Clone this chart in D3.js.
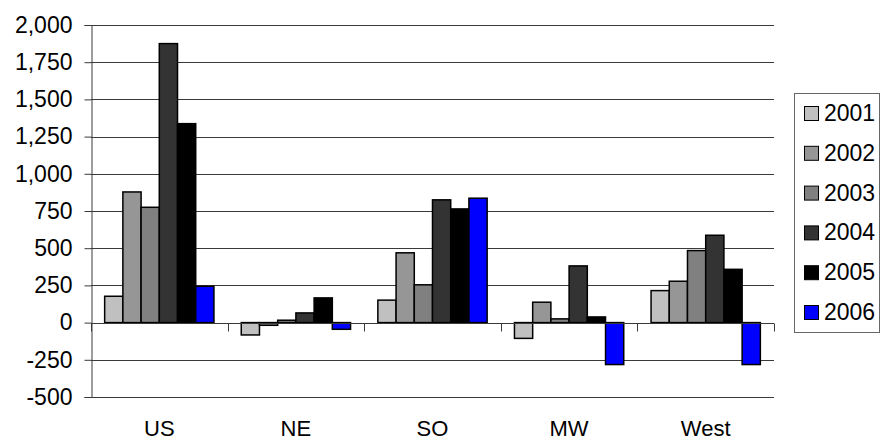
<!DOCTYPE html>
<html>
<head>
<meta charset="utf-8">
<script src="https://cdn.jsdelivr.net/npm/d3@7"></script>
<style>
  html, body { margin: 0; padding: 0; background: #fff; }
  svg { display: block; }
  svg text { font-family: "Liberation Sans", Arial, Helvetica, sans-serif !important; }
</style>
</head>
<body>
<svg id="chart" width="881" height="441"></svg>
<script>
// ---- data ----
const categories = ["US", "NE", "SO", "MW", "West"];
const years = ["2001", "2002", "2003", "2004", "2005", "2006"];
const v2001 = [177, -83, 151, -106, 215];
const v2002 = [878, -18, 469, 137, 278];
const v2003 = [775, 16, 254, 25, 484];
const v2004 = [1875, 65, 825, 381, 587];
const v2005 = [1337, 166, 764, 38, 358];
const v2006 = [244, -45, 836, -282, -282];
const yTicks = [-500, -250, 0, 250, 500, 750, 1000, 1250, 1500, 1750, 2000];
const colors = ["#C0C0C0", "#969696", "#808080", "#333333", "#000000", "#0000FF"];

(function () {
const seriesValues = [v2001, v2002, v2003, v2004, v2005, v2006];
const rows = categories.map((c, i) => ({
  cat: c,
  vals: years.map((yr, j) => ({ year: yr, value: seriesValues[j][i], color: colors[j] }))
}));

// ---- layout ----
const svg = d3.select("#chart");
const pLeft = 91, pRight = 774, pTop = 25, pBottom = 397;
const fontSize = 23;
const fmt = d3.format(",");
const tickFmt = d => fmt(d).replace("\u2212", "-");

const x0 = d3.scaleBand().domain(categories).range([pLeft, pRight]).paddingInner(0).paddingOuter(0);
const x1 = d3.scaleBand().domain(years).range([0, x0.bandwidth()]).paddingInner(0).paddingOuter(0.75);
const y = d3.scaleLinear().domain([-500, 2000]).range([pBottom, pTop]);

// gridlines
svg.append("g")
  .selectAll("line")
  .data(yTicks)
  .join("line")
  .attr("x1", pLeft).attr("x2", pRight)
  .attr("y1", d => Math.round(y(d)) + 0.5)
  .attr("y2", d => Math.round(y(d)) + 0.5)
  .attr("stroke", "#3a3a3a")
  .attr("stroke-width", 1);

// bars
const groups = svg.append("g")
  .selectAll("g")
  .data(rows)
  .join("g")
  .attr("transform", d => `translate(${x0(d.cat)},0)`);

groups.selectAll("rect")
  .data(d => d.vals)
  .join("rect")
  .attr("x", d => x1(d.year))
  .attr("width", x1.bandwidth())
  .attr("y", d => y(Math.max(0, d.value)))
  .attr("height", d => Math.abs(y(d.value) - y(0)))
  .attr("fill", d => d.color)
  .attr("stroke", "#000")
  .attr("stroke-width", 1.5);

// y axis
const yAxis = d3.axisLeft(y).tickValues(yTicks).tickFormat(tickFmt).tickSize(7).tickPadding(12);
const gy = svg.append("g").attr("transform", `translate(${pLeft + 0.5},0)`).call(yAxis);
gy.attr("font-family", null).attr("font-size", null);
gy.select(".domain").attr("stroke", "#3a3a3a");
gy.selectAll(".tick line").attr("stroke", "#3a3a3a");
gy.selectAll(".tick text")
  .style("font-size", fontSize + "px")
  .attr("fill", "#000");

// x axis at zero with ticks at category boundaries
const zeroY = Math.round(y(0)) + 0.5;
const boundaries = categories.map(c => x0(c)).concat([pRight]);
svg.append("g")
  .selectAll("line")
  .data(boundaries)
  .join("line")
  .attr("x1", d => Math.round(d) + 0.5).attr("x2", d => Math.round(d) + 0.5)
  .attr("y1", zeroY).attr("y2", zeroY + 8)
  .attr("stroke", "#3a3a3a");
svg.append("line")
  .attr("x1", pLeft).attr("x2", pRight)
  .attr("y1", zeroY).attr("y2", zeroY)
  .attr("stroke", "#3a3a3a");

// category labels
svg.append("g")
  .selectAll("text")
  .data(categories)
  .join("text")
  .attr("x", d => x0(d) + x0.bandwidth() / 2)
  .attr("y", 436)
  .attr("text-anchor", "middle")
  .style("font-size", "22px")
  .attr("fill", "#000")
  .text(d => d);

// legend
const legend = svg.append("g");
legend.append("rect")
  .attr("x", 794.5).attr("y", 93.5)
  .attr("width", 85).attr("height", 239)
  .attr("fill", "#fff")
  .attr("stroke", "#666")
  .attr("stroke-width", 1);
const legendY = d3.scalePoint().domain(years).range([113, 312]);
const items = legend.selectAll("g.item")
  .data(years.map((yr, j) => ({ yr, color: colors[j] })))
  .join("g")
  .attr("class", "item")
  .attr("transform", d => `translate(0,${legendY(d.yr)})`);
items.append("rect")
  .attr("x", 804.5).attr("y", -6.5)
  .attr("width", 14).attr("height", 14)
  .attr("fill", d => d.color)
  .attr("stroke", "#000")
  .attr("stroke-width", 1);
items.append("text")
  .attr("x", 824)
  .attr("y", 8)
  .style("font-size", fontSize + "px")
  .attr("fill", "#000")
  .text(d => d.yr);
})();
</script>
</body>
</html>
